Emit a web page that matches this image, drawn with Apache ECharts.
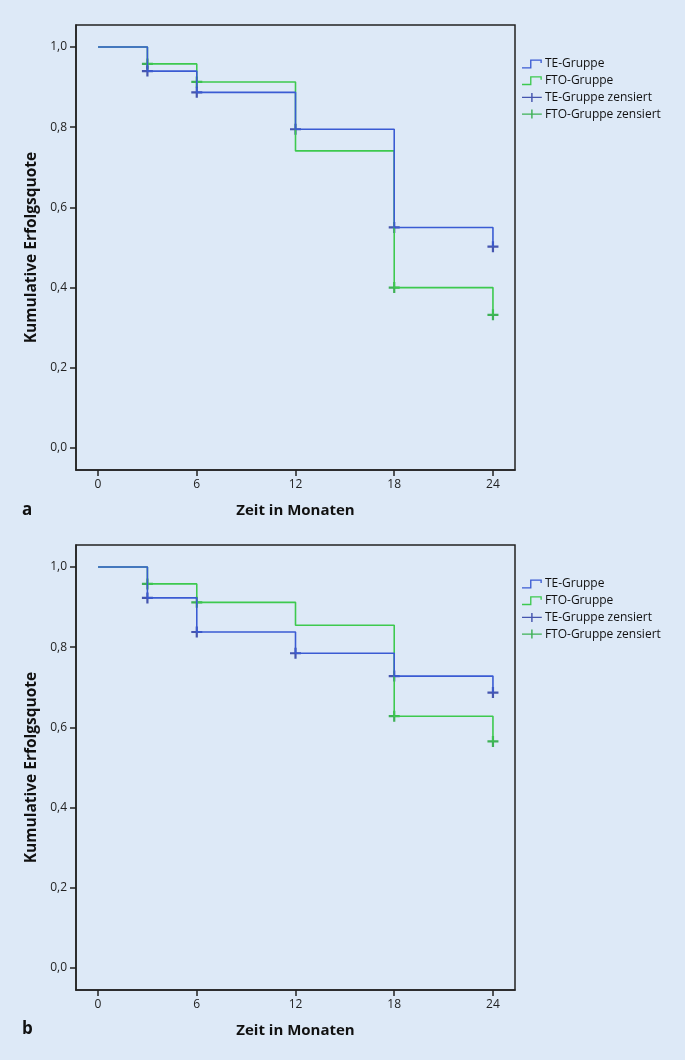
<!DOCTYPE html>
<html>
<head>
<meta charset="utf-8">
<script src="https://cdn.jsdelivr.net/npm/echarts@6/dist/echarts.min.js"></script>
<style>
  html, body { margin: 0; padding: 0; background: #dde9f7; }
  #chart { width: 685px; height: 1060px; }
</style>
</head>
<body>
<div id="chart"></div>
<script>
// Kaplan-Meier steps
var months = [0, 3, 6, 12, 18, 24];
var teA  = [1, 0.940, 0.887, 0.795, 0.550, 0.502];
var ftoA = [1, 0.958, 0.913, 0.741, 0.400, 0.332];
var teB  = [1, 0.923, 0.838, 0.785, 0.728, 0.687];
var ftoB = [1, 0.958, 0.912, 0.855, 0.628, 0.565];
// censored time points per group
var teCensored  = [3, 6, 12, 18, 24];
var ftoCensored = [3, 6, 18, 24];
var xTicks = [0, 6, 12, 18, 24];
var yTicks = [0, 0.2, 0.4, 0.6, 0.8, 1.0];

var FONT = "Open Sans";
var BLUE = "#3a5bd3", GREEN = "#3dc94f";
var BLUE_MARK = "#1f2f9c", GREEN_MARK = "#17a32d";
var PLUS = "path://M4,0H6V10H4Z M0,4H10V6H0Z";
var STEP_ICON = "path://M0,8.5H9V0H22V4H20.5V1.5H10.5V10H0Z";
var PLUS_ICON = "path://M0,4.3H10.2V0H11.8V4.3H22V5.7H11.8V10H10.2V5.7H0Z";

function steps(vals) {
  return months.map(function (m, i) { return [m, vals[i]]; });
}
function censored(vals, times) {
  return times.map(function (t) { return [t, vals[months.indexOf(t)]]; });
}

var grids = [
  { left: 76, right: 170, top: 25, height: 445 },
  { left: 76, right: 170, top: 545, height: 445 }
];

function xAxisFor(i) {
  return {
    type: "value", gridIndex: i, min: -1.34, max: 25.34,
    name: "Zeit in Monaten", nameLocation: "middle", nameGap: 33,
    nameTextStyle: { fontFamily: FONT, fontWeight: "bold", fontSize: 15, color: "#111" },
    axisLine: { show: true, onZero: false, lineStyle: { color: "#222", width: 1.5 } },
    axisTick: { show: true, customValues: xTicks, length: 6, lineStyle: { color: "#222", width: 1.5 } },
    axisLabel: { customValues: xTicks, margin: 9, fontFamily: FONT, fontSize: 12, color: "#222" },
    splitLine: { show: false }
  };
}
function yAxisFor(i) {
  return {
    type: "value", gridIndex: i, min: -0.055, max: 1.055,
    name: "Kumulative Erfolgsquote", nameLocation: "middle", nameGap: 34, nameRotate: 90,
    nameTextStyle: { fontFamily: FONT, fontWeight: "bold", fontSize: 15.5, color: "#111" },
    axisLine: { show: true, onZero: false, lineStyle: { color: "#222", width: 1.5 } },
    axisTick: { show: true, customValues: yTicks, length: 6, lineStyle: { color: "#222", width: 1.5 } },
    axisLabel: {
      customValues: yTicks, margin: 9, fontFamily: FONT, fontSize: 12, color: "#222",
      formatter: function (v) { return v.toFixed(1).replace(".", ","); }
    },
    splitLine: { show: false }
  };
}

function lineSeries(name, vals, color, i) {
  return {
    name: name, type: "line", step: "end", xAxisIndex: i, yAxisIndex: i,
    data: steps(vals), showSymbol: false, color: color,
    lineStyle: { color: color, width: 1.6 }
  };
}
function censSeries(name, vals, times, color, i) {
  return {
    name: name, type: "scatter", xAxisIndex: i, yAxisIndex: i,
    data: censored(vals, times), symbol: PLUS, symbolSize: 11,
    color: color, itemStyle: { color: color }
  };
}

function legendFor(top) {
  return {
    orient: "vertical", left: 517, top: top,
    itemWidth: 22, itemHeight: 9, itemGap: 4.7,
    textStyle: { fontFamily: FONT, fontSize: 12, color: "#111", padding: [0, 0, 0, -3] },
    data: [
      { name: "TE-Gruppe", icon: STEP_ICON },
      { name: "FTO-Gruppe", icon: STEP_ICON },
      { name: "TE-Gruppe zensiert", icon: PLUS_ICON },
      { name: "FTO-Gruppe zensiert", icon: PLUS_ICON }
    ]
  };
}

var chart = echarts.init(document.getElementById("chart"));
chart.setOption({
  animation: false,
  backgroundColor: "#dde9f7",
  grid: grids.map(function (g) {
    return Object.assign({ show: true, borderColor: "#222", borderWidth: 1.5, backgroundColor: "transparent" }, g);
  }),
  xAxis: [xAxisFor(0), xAxisFor(1)],
  yAxis: [yAxisFor(0), yAxisFor(1)],
  legend: [legendFor(53), legendFor(573)],
  graphic: [
    { type: "text", left: 22, top: 502, style: { text: "a", fontFamily: FONT, fontWeight: "bold", fontSize: 17, fill: "#111" } },
    { type: "text", left: 22, top: 1021, style: { text: "b", fontFamily: FONT, fontWeight: "bold", fontSize: 17, fill: "#111" } }
  ],
  series: [
    lineSeries("FTO-Gruppe", ftoA, GREEN, 0),
    lineSeries("TE-Gruppe", teA, BLUE, 0),
    censSeries("FTO-Gruppe zensiert", ftoA, ftoCensored, GREEN_MARK, 0),
    censSeries("TE-Gruppe zensiert", teA, teCensored, BLUE_MARK, 0),
    lineSeries("FTO-Gruppe", ftoB, GREEN, 1),
    lineSeries("TE-Gruppe", teB, BLUE, 1),
    censSeries("FTO-Gruppe zensiert", ftoB, ftoCensored, GREEN_MARK, 1),
    censSeries("TE-Gruppe zensiert", teB, teCensored, BLUE_MARK, 1)
  ]
});
</script>
</body>
</html>
